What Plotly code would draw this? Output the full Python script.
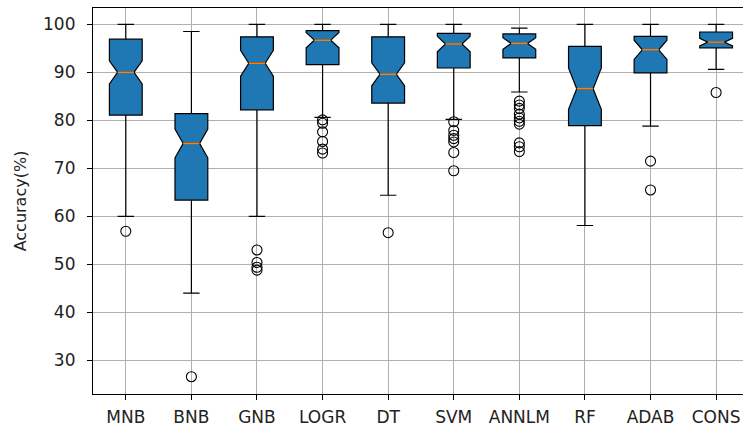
import plotly.graph_objects as go

categories = ["MNB", "BNB", "GNB", "LOGR", "DT", "SVM", "ANNLM", "RF", "ADAB", "CONS"]
positions = list(range(1, len(categories) + 1))

q1 =        [81.1, 63.4, 82.2, 91.6, 83.6, 90.9, 93.0, 78.9, 89.9, 95.1]
medians =   [90.0, 75.2, 91.9, 96.7, 89.6, 95.9, 96.0, 86.6, 94.7, 96.3]
q3 =        [96.9, 81.4, 97.4, 98.7, 97.4, 98.1, 98.0, 95.4, 97.5, 98.4]
lower_wh =  [60.0, 44.0, 60.0, 80.6, 64.4, 80.2, 85.9, 58.1, 78.8, 90.6]
upper_wh =  [100.0, 98.5, 100.0, 100.0, 100.0, 100.0, 99.2, 100.0, 100.0, 100.0]
notch_half = [2.4, 3.0, 2.7, 1.6, 2.4, 1.6, 1.2, 4.3, 2.0, 0.8]

outliers = {
    "MNB": [56.9],
    "BNB": [26.6],
    "GNB": [53.0, 50.4, 49.4, 48.8],
    "LOGR": [80.1, 79.4, 77.6, 75.6, 74.0, 73.2],
    "DT": [56.6],
    "SVM": [79.7, 77.9, 76.9, 76.2, 75.5, 73.3, 69.5],
    "ANNLM": [84.0, 83.2, 82.5, 81.3, 80.5, 79.8, 79.2, 75.3, 74.5, 73.5],
    "RF": [],
    "ADAB": [71.5, 65.5],
    "CONS": [85.8],
}

BOX_W = 0.5
BLUE = "#1f77b4"
ORANGE = "#ff7f0e"

fig = go.Figure()

fig.add_trace(go.Box(
    x=positions,
    q1=q1, median=medians, q3=q3,
    lowerfence=lower_wh, upperfence=upper_wh,
    notchspan=notch_half,
    notched=True, notchwidth=0.25,
    width=BOX_W, whiskerwidth=0.5,
    fillcolor=BLUE,
    line=dict(color="black", width=1.2),
    boxpoints=False,
    hoverinfo="skip",
    showlegend=False,
))

# median lines (orange)
mx, my = [], []
for p, m in zip(positions, medians):
    mx += [p - BOX_W / 4, p + BOX_W / 4, None]
    my += [m, m, None]
fig.add_trace(go.Scatter(x=mx, y=my, mode="lines",
                         line=dict(color=ORANGE, width=1.6),
                         hoverinfo="skip", showlegend=False))

# outliers
ox, oy = [], []
for p, c in zip(positions, categories):
    for v in outliers[c]:
        ox.append(p)
        oy.append(v)
fig.add_trace(go.Scatter(x=ox, y=oy, mode="markers",
                         marker=dict(symbol="circle-open", size=10,
                                     color="black", line=dict(width=1.1)),
                         hoverinfo="skip", showlegend=False))

font = dict(family="DejaVu Sans", size=17, color="#222222")

fig.update_layout(
    width=743, height=427,
    margin=dict(l=93, r=0, t=8, b=29),
    paper_bgcolor="white", plot_bgcolor="white",
    font=font,
    showlegend=False,
    xaxis=dict(
        range=[0.5, 10.41],
        tickvals=positions, ticktext=categories,
        showgrid=True, gridcolor="#b0b0b0", gridwidth=1,
        showline=True, linecolor="black", linewidth=1.2, mirror=True,
        ticks="outside", ticklen=5, tickcolor="black", tickwidth=1,
        zeroline=False, tickfont=font, ticklabelstandoff=2,
    ),
    yaxis=dict(
        range=[23.0, 103.4],
        tickvals=[30, 40, 50, 60, 70, 80, 90, 100],
        showgrid=True, gridcolor="#b0b0b0", gridwidth=1,
        showline=True, linecolor="black", linewidth=1.2,
        ticks="outside", ticklen=5, tickcolor="black", tickwidth=1,
        zeroline=False, tickfont=font, ticklabelstandoff=8,
        title=dict(text="Accuracy(%)", font=dict(family="DejaVu Sans", size=16, color="#222222"), standoff=12),
    ),
)

fig.write_html("out.html",
               config={"displayModeBar": False},
               post_script="document.body.style.margin='0';document.body.style.overflow='hidden';")
